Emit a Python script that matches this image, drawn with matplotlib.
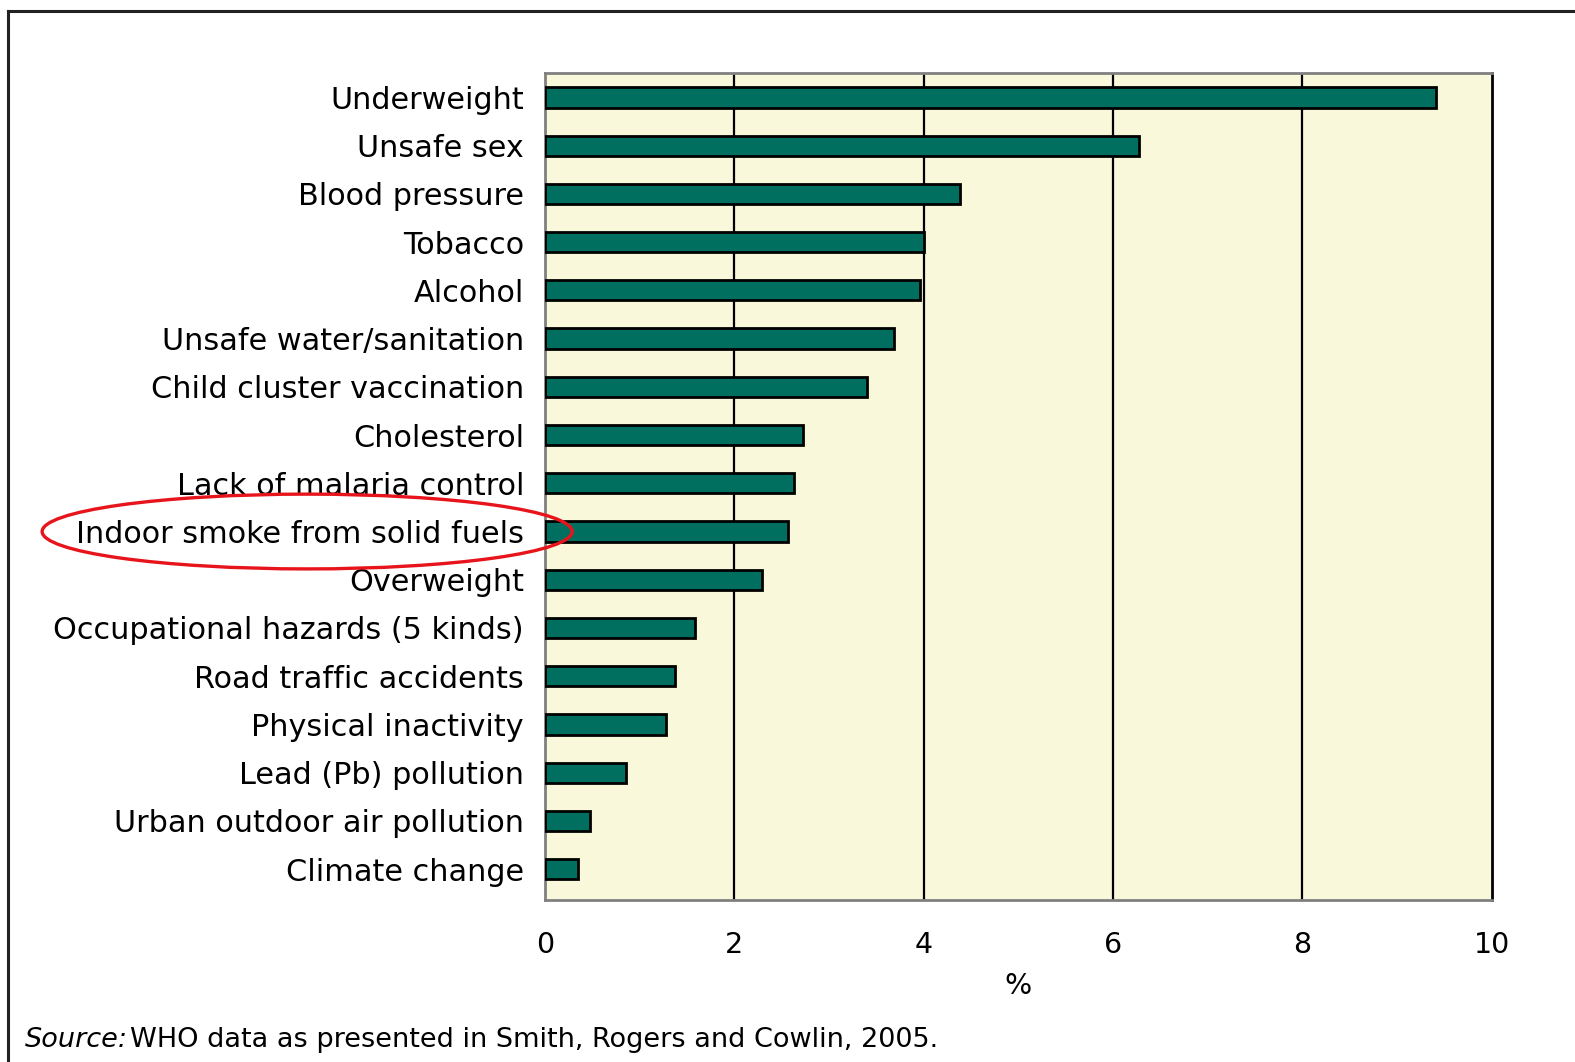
import numpy as np
import matplotlib
matplotlib.use('Agg')
import matplotlib.pyplot as plt
from matplotlib.patches import Ellipse
from matplotlib.lines import Line2D
from matplotlib.transforms import blended_transform_factory

plt.rcParams['font.family'] = ['DejaVu Sans']

#Risk factors and share of global burden (%)
factors = ['Underweight', 'Unsafe sex', 'Blood pressure', 'Tobacco', 'Alcohol',
           'Unsafe water/sanitation', 'Child cluster vaccination', 'Cholesterol',
           'Lack of malaria control', 'Indoor smoke from solid fuels', 'Overweight',
           'Occupational hazards (5 kinds)', 'Road traffic accidents',
           'Physical inactivity', 'Lead (Pb) pollution', 'Urban outdoor air pollution',
           'Climate change']
share = [9.41, 6.28, 4.39, 4.0, 3.96, 3.69, 3.40, 2.73, 2.63, 2.57, 2.29,
         1.59, 1.37, 1.28, 0.86, 0.48, 0.35]
xticks = [0, 2, 4, 6, 8, 10]
highlight = 'Indoor smoke from solid fuels'

fig = plt.figure(figsize=(15.75, 10.62), dpi=100)
ax = fig.add_axes([0.346, 0.1525, 0.601, 0.7785])
ax.set_facecolor('#FAF8DA')

y = np.arange(len(factors))
ax.barh(y, share, height=0.42, color='#006F5F', edgecolor='black', linewidth=2, zorder=3)

#Gridlines
for x in xticks[1:-1]:
    ax.axvline(x, color='black', linewidth=1.6, zorder=2)

ax.set_xlim(0, 10)
ax.set_ylim(len(factors) - 1 + 0.64, -0.5)
ax.set_yticks(y)
ax.set_yticklabels(factors, fontsize=21.8)
ax.set_xticks(xticks)
ax.set_xticklabels([str(v) for v in xticks], fontsize=20.5)
ax.tick_params(length=0)
ax.tick_params(axis='y', pad=15)
ax.tick_params(axis='x', pad=22)
ax.set_xlabel('%', fontsize=20.5, labelpad=10)

for side in ['left', 'top', 'bottom']:
    ax.spines[side].set_color('#808080')
    ax.spines[side].set_linewidth(2)
ax.spines['right'].set_color('black')
ax.spines['right'].set_linewidth(2)

#Ring round the highlighted label
yi = factors.index(highlight)
trans = blended_transform_factory(fig.transFigure, ax.transData)
ax.add_patch(Ellipse((0.195, yi), 0.3365, 1.55, transform=trans, fill=False,
                     edgecolor='#E8141B', linewidth=2.4, clip_on=False, zorder=5))

#Outer frame
fig.add_artist(Line2D([0.0051, 0.0051], [0, 0.9896], color='#222222', linewidth=2.2))
fig.add_artist(Line2D([0.0051, 1], [0.9896, 0.9896], color='#222222', linewidth=2.2))

#Source note
src = fig.text(0.016, 0.014, 'Source:', fontsize=19.5, style='italic', ha='left', va='baseline')
ax.annotate('WHO data as presented in Smith, Rogers and Cowlin, 2005.',
            xy=(1, 0), xycoords=src, xytext=(1, 0), textcoords='offset points',
            fontsize=19.5, ha='left', va='bottom', annotation_clip=False)

fig.savefig('out.png', dpi=100)
